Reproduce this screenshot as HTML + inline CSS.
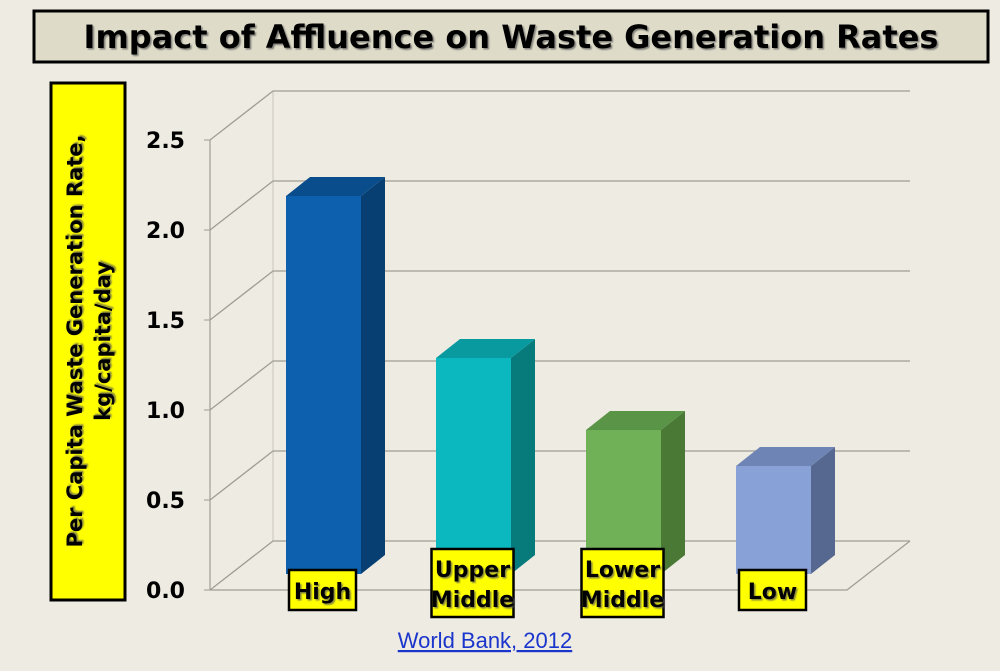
<!DOCTYPE html>
<html><head><meta charset="utf-8"><style>
body{margin:0;width:1000px;height:667px;background:#eeebe2;overflow:hidden;font-family:"DejaVu Sans","Liberation Sans",sans-serif}
</style></head><body>
<svg width="1000" height="667" xmlns="http://www.w3.org/2000/svg">
<defs><filter id="sh"><feDropShadow dx="1.5" dy="1.5" stdDeviation="0.8" flood-color="#555" flood-opacity="0.7"/></filter></defs>
<rect x="34" y="11" width="954" height="51" fill="#dedbc8" stroke="#000" stroke-width="3"/>
<text x="511" y="48" text-anchor="middle" font-size="32" font-weight="bold" filter="url(#sh)">Impact of Affluence on Waste Generation Rates</text>
<rect x="51" y="83" width="74" height="517" fill="#ffff00" stroke="#000" stroke-width="3"/>
<text transform="translate(88,341) rotate(-90)" text-anchor="middle" font-size="21" font-weight="bold" filter="url(#sh)"><tspan x="0" dy="-6">Per Capita Waste Generation Rate,</tspan><tspan x="0" dy="28">kg/capita/day</tspan></text>
<g id="grid"></g><g id="bars"></g><g id="labels"></g>
<a><text x="485" y="648" text-anchor="middle" font-size="22" fill="#1a35cc" font-family="Liberation Sans, sans-serif" text-decoration="underline">World Bank, 2012</text></a>
</svg>
<script>
const categories=[["High"],["Upper","Middle"],["Lower","Middle"],["Low"]];
const values=[2.1,1.2,0.8,0.6];
const ticks=["0.0","0.5","1.0","1.5","2.0","2.5"];
const tickVals=[0,0.5,1,1.5,2,2.5];
const NS="http://www.w3.org/2000/svg";
function mk(t,a,p){const e=document.createElementNS(NS,t);for(const k in a)e.setAttribute(k,a[k]);p.appendChild(e);return e;}
const fx0=210,fy0=590,ppu=180,dx=63,dy=-49,xRight=847;
const yF=v=>fy0-v*ppu;
const grid=document.getElementById('grid');
mk('line',{x1:fx0,y1:yF(0),x2:fx0,y2:yF(2.5),stroke:'#a09d95','stroke-width':1.2},grid);
mk('line',{x1:fx0+dx,y1:yF(0)+dy,x2:fx0+dx,y2:yF(2.5)+dy,stroke:'#c9c6bd','stroke-width':1},grid);
tickVals.forEach((v,i)=>{
  const y=yF(v);
  const g=mk('path',{d:`M${fx0} ${y} L${fx0+dx} ${y+dy} L${xRight+dx} ${y+dy}`,fill:'none',stroke:'#a09d95','stroke-width':1.3},grid);
  
  
  mk('line',{x1:fx0-6,y1:y,x2:fx0,y2:y,stroke:'#a09d95'},grid);
  const t=mk('text',{x:fx0-25,y:y+8,'text-anchor':'end','font-size':22,'font-weight':'bold'},grid);
  t.textContent=ticks[i];
  
  
});
const fl=mk('path',{d:`M${fx0} ${fy0} L${xRight} ${fy0} L${xRight+dx} ${fy0+dy}`,fill:'none',stroke:'#a09d95','stroke-width':1.3},grid);
const cols=[["#0d60ad","#083f72","#0a4d8c"],["#0bb8c0","#077a7c","#099aa0"],["#70b057","#4a7936","#5a9446"],["#88a1d6","#56688f","#6d84b5"]];
const bars=document.getElementById('bars'),labels=document.getElementById('labels');
const base=574,bw=75,bdx=24,bdy=-19;
values.forEach((v,i)=>{
  const x=286+i*150,top=base-v*ppu;
  const g=mk('g',{},bars);
  
  
  mk('rect',{x:x,y:top,width:bw,height:base-top,fill:cols[i][0]},g);
  mk('path',{d:`M${x+bw} ${top} L${x+bw+bdx} ${top+bdy} L${x+bw+bdx} ${base+bdy} L${x+bw} ${base} Z`,fill:cols[i][1]},g);
  mk('path',{d:`M${x} ${top} L${x+bdx} ${top+bdy} L${x+bw+bdx} ${top+bdy} L${x+bw} ${top} Z`,fill:cols[i][2]},g);
  const two=categories[i].length>1;
  const cx=x+bw/2-1;
  const w=two?82:67,h=two?68:40,y0=two?549:570;
  const lg=mk('g',{},labels);
  
  
  mk('rect',{x:cx-w/2,y:y0,width:w,height:h,fill:'#ffff00',stroke:'#000','stroke-width':2.5},lg);
  categories[i].forEach((s,j)=>{
    const t=mk('text',{x:cx,y:two?y0+28+j*30:y0+29,'text-anchor':'middle','font-size':22,'font-weight':'bold',filter:'url(#sh)'},lg);
    t.textContent=s;
  });
});
</script>
</body></html>
